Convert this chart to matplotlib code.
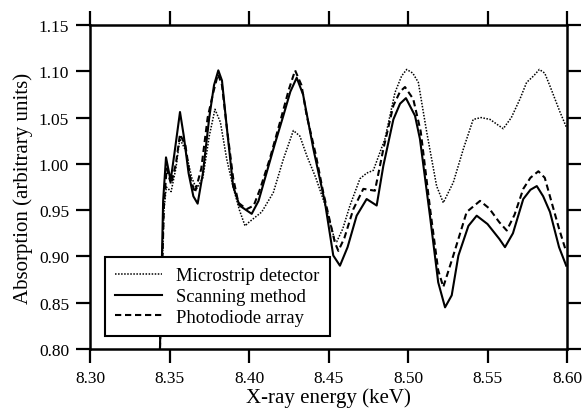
import matplotlib
matplotlib.use('Agg')
import matplotlib.pyplot as plt

plt.rcParams['font.family'] = ['Liberation Serif', 'DejaVu Serif']

# Microstrip detector (dotted)
micro_x = [8.3440, 8.3465, 8.3480, 8.3510, 8.3540, 8.3565, 8.3600, 8.3640, 8.3670,
           8.3710, 8.3750, 8.3786, 8.3820, 8.3860, 8.3900, 8.3940, 8.3975, 8.4000,
           8.4080, 8.4153, 8.4216, 8.4279, 8.4320, 8.4363, 8.4420, 8.4488, 8.4540,
           8.4552, 8.4590, 8.4635, 8.4698, 8.4740, 8.4782, 8.4855, 8.4918, 8.4960,
           8.4992, 8.5030, 8.5065, 8.5118, 8.5180, 8.5222, 8.5285, 8.5348, 8.5410,
           8.5460, 8.5516, 8.5574, 8.5599, 8.5650, 8.5704, 8.5746, 8.5790, 8.5826,
           8.5860, 8.5893, 8.5956, 8.5995]
micro_y = [0.800, 0.950, 0.975, 0.970, 0.995, 1.027, 1.015, 0.985, 0.973,
           0.985, 1.030, 1.059, 1.045, 1.005, 0.975, 0.950, 0.933, 0.937,
           0.948, 0.969, 1.005, 1.036, 1.030, 1.009, 0.985, 0.951, 0.917,
           0.916, 0.930, 0.955, 0.984, 0.990, 0.993, 1.027, 1.077, 1.095,
           1.102, 1.098, 1.088, 1.034, 0.976, 0.958, 0.980, 1.016, 1.048,
           1.050, 1.048, 1.041, 1.038, 1.050, 1.070, 1.088, 1.095, 1.102,
           1.098, 1.084, 1.056, 1.040]

# Scanning method (solid)
scan_x = [8.3440, 8.3460, 8.3478, 8.3507, 8.3530, 8.3566, 8.3590, 8.3620, 8.3650,
          8.3677, 8.3710, 8.3750, 8.3780, 8.3807, 8.3830, 8.3860, 8.3900, 8.3940,
          8.4017, 8.4060, 8.4100, 8.4160, 8.4216, 8.4260, 8.4300, 8.4340, 8.4405,
          8.4478, 8.4530, 8.4572, 8.4620, 8.4677, 8.4740, 8.4803, 8.4845, 8.4908,
          8.4950, 8.4987, 8.5044, 8.5075, 8.5138, 8.5190, 8.5233, 8.5275, 8.5317,
          8.5380, 8.5432, 8.5500, 8.5574, 8.5610, 8.5660, 8.5725, 8.5770, 8.5810,
          8.5850, 8.5893, 8.5950, 8.5995]
scan_y = [0.800, 0.960, 1.007, 0.982, 1.010, 1.056, 1.030, 0.990, 0.965,
          0.957, 0.990, 1.050, 1.085, 1.101, 1.090, 1.040, 0.976, 0.955,
          0.946, 0.960, 0.984, 1.020, 1.052, 1.078, 1.093, 1.075, 1.016,
          0.958, 0.901, 0.890, 0.910, 0.944, 0.962, 0.955, 0.998, 1.048,
          1.065, 1.071, 1.052, 1.027, 0.944, 0.872, 0.845, 0.858, 0.901,
          0.933, 0.944, 0.935, 0.919, 0.910, 0.925, 0.962, 0.972, 0.976,
          0.965, 0.948, 0.910, 0.890]

# Photodiode array (dashed)
photo_x = [8.3440, 8.3465, 8.3482, 8.3510, 8.3540, 8.3566, 8.3600, 8.3630, 8.3660,
           8.3700, 8.3740, 8.3775, 8.3805, 8.3830, 8.3860, 8.3900, 8.3933, 8.3985,
           8.4030, 8.4070, 8.4130, 8.4195, 8.4250, 8.4290, 8.4330, 8.4363, 8.4420,
           8.4467, 8.4540, 8.4562, 8.4600, 8.4656, 8.4719, 8.4792, 8.4845, 8.4908,
           8.4950, 8.4981, 8.5033, 8.5080, 8.5140, 8.5190, 8.5222, 8.5285, 8.5369,
           8.5453, 8.5510, 8.5574, 8.5621, 8.5670, 8.5725, 8.5770, 8.5820, 8.5860,
           8.5904, 8.5950, 8.5995]
photo_y = [0.800, 0.955, 0.995, 0.978, 1.000, 1.032, 1.020, 0.985, 0.969,
           0.995, 1.050, 1.077, 1.097, 1.085, 1.040, 0.985, 0.958, 0.951,
           0.955, 0.973, 1.005, 1.045, 1.080, 1.101, 1.085, 1.052, 1.010,
           0.969, 0.915, 0.906, 0.920, 0.951, 0.973, 0.971, 1.016, 1.063,
           1.078, 1.083, 1.070, 1.035, 0.950, 0.885, 0.867, 0.901, 0.948,
           0.960, 0.952, 0.937, 0.928, 0.945, 0.973, 0.985, 0.992, 0.985,
           0.958, 0.930, 0.905]

x_ticks = [8.30, 8.35, 8.40, 8.45, 8.50, 8.55, 8.60]
y_ticks = [0.80, 0.85, 0.90, 0.95, 1.00, 1.05, 1.10, 1.15]

fig = plt.figure(figsize=(5.82, 4.14), dpi=100)
ax = fig.add_axes([90 / 582, 1 - 350 / 414, 477 / 582, 324 / 414])

ax.plot(micro_x, micro_y, color='black', linestyle=(0, (1, 1)), linewidth=1.1,
        label='Microstrip detector')
ax.plot(scan_x, scan_y, color='black', linestyle='solid', linewidth=1.5,
        label='Scanning method')
ax.plot(photo_x, photo_y, color='black', linestyle=(0, (3, 1.8)), linewidth=1.5,
        label='Photodiode array')

ax.set_xlim(8.30, 8.60)
ax.set_ylim(0.80, 1.15)
ax.set_xticks(x_ticks)
ax.set_yticks(y_ticks)
ax.set_xticklabels(['%.2f' % v for v in x_ticks])
ax.set_yticklabels(['%.2f' % v for v in y_ticks])
ax.tick_params(direction='out', length=10, width=1.6, labelsize=12.5, pad=5,
               top=True, right=True, color='black')
for s in ax.spines.values():
    s.set_linewidth(1.8)

ax.set_xlabel('X-ray energy (keV)', fontsize=15, labelpad=1)
ax.set_ylabel('Absorption (arbitrary units)', fontsize=15, labelpad=4)

leg = ax.legend(loc='lower left', bbox_to_anchor=(0.031, 0.040), fontsize=13.4,
                frameon=True, fancybox=False, edgecolor='black', framealpha=1,
                handlelength=2.5, borderpad=0.55, labelspacing=0.2,
                handletextpad=0.8, borderaxespad=0)
leg.get_frame().set_linewidth(1.5)

fig.savefig('out.png', dpi=100)
